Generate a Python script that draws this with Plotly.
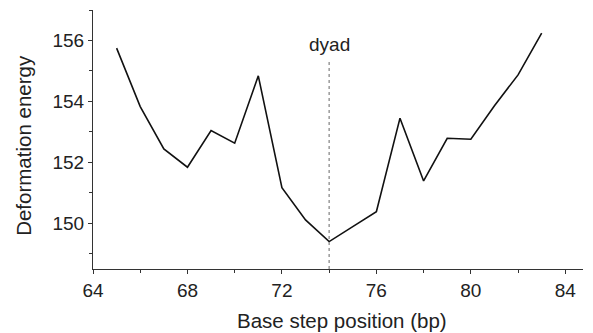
import plotly.graph_objects as go

positions = [65, 66, 67, 68, 69, 70, 71, 72, 73, 74, 75, 76, 77, 78, 79, 80, 81, 82, 83]
energy = [155.75, 153.83, 152.44, 151.84, 153.04, 152.63, 154.84, 151.17, 150.11, 149.40,
          149.89, 150.38, 153.45, 151.39, 152.79, 152.76, 153.86, 154.87, 156.24]
dyad_x = 74
dyad_top = 155.3
dyad_label = "dyad"
x_ticks = [64, 68, 72, 76, 80, 84]
y_ticks = [150, 152, 154, 156]

FONT = "Liberation Sans, Arial, sans-serif"

fig = go.Figure()
fig.add_trace(go.Scatter(x=positions, y=energy, mode="lines",
                         line=dict(color="#111111", width=1.6), showlegend=False))
fig.add_trace(go.Scatter(x=[dyad_x, dyad_x], y=[148.5, dyad_top], mode="lines",
                         line=dict(color="#8a8a8a", width=1.3, dash="3px,3px"),
                         showlegend=False))
fig.add_annotation(x=dyad_x, y=155.86, text=dyad_label, showarrow=False,
                   xanchor="center", yanchor="middle",
                   font=dict(family=FONT, size=19, color="#222222"))
fig.add_annotation(xref="paper", yref="paper", x=-0.141, y=0.479,
                   text="Deformation energy", textangle=-90, showarrow=False,
                   xanchor="center", yanchor="middle",
                   font=dict(family=FONT, size=20.5, color="#222222"))
fig.add_annotation(xref="paper", yref="paper", x=0.509, y=-0.2,
                   text="Base step position (bp)", showarrow=False,
                   xanchor="center", yanchor="middle",
                   font=dict(family=FONT, size=20.5, color="#222222"))

axis_common = dict(showline=True, linecolor="#333333", linewidth=1.2, showgrid=False,
                   zeroline=False, ticks="outside", ticklen=4, tickwidth=1.2,
                   tickcolor="#333333", automargin=False,
                   tickfont=dict(family=FONT, size=19, color="#222222"))

fig.update_xaxes(range=[64, 84.75], tickvals=x_ticks,
                 minor=dict(dtick=2, tick0=64, ticks="outside", ticklen=3,
                            tickwidth=1.2, tickcolor="#333333"),
                 **axis_common)
fig.update_yaxes(range=[148.5, 157], tickvals=y_ticks,
                 minor=dict(dtick=1, tick0=149, ticks="outside", ticklen=3,
                            tickwidth=1.2, tickcolor="#333333"),
                 **axis_common)

fig.update_layout(width=593, height=333, margin=dict(l=93, r=10, t=10, b=64),
                  plot_bgcolor="white", paper_bgcolor="white")

fig.write_html("out.html")
